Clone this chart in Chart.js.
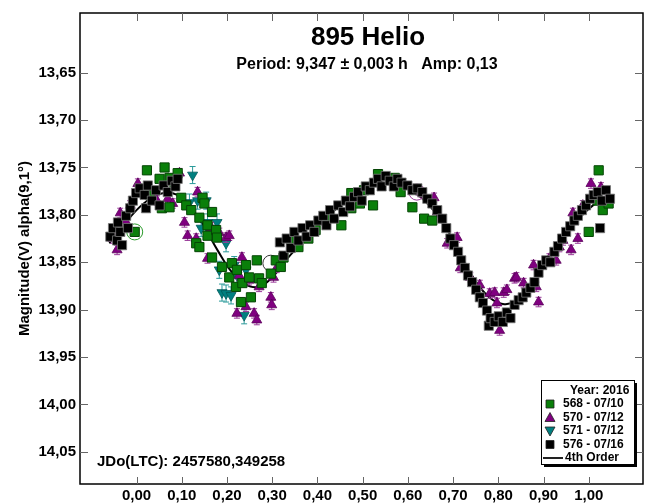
<!DOCTYPE html>
<html>
<head>
<meta charset="utf-8">
<script src="https://cdn.jsdelivr.net/npm/chart.js@4.4.0/dist/chart.umd.min.js"></script>
<style>
html, body { margin: 0; padding: 0; background: #fff; }
</style>
</head>
<body>
<canvas id="helio" width="652" height="503"></canvas>
<script>
var xTicks = [0, 0.1, 0.2, 0.3, 0.4, 0.5, 0.6, 0.7, 0.8, 0.9, 1.0];
var yTicks = [13.65, 13.70, 13.75, 13.80, 13.85, 13.90, 13.95, 14.00, 14.05];

// 576 - 07/16 (black squares)
var phase576 = [-0.058, -0.052, -0.043, -0.041, -0.036, -0.032, -0.023, -0.019, -0.014, -0.008, -0.001, 0.007, 0.018, 0.021, 0.025, 0.034, 0.043, 0.051, 0.060, 0.069, 0.078, 0.086, 0.091,
  0.317, 0.325, 0.332, 0.341, 0.349, 0.358, 0.367, 0.376, 0.384, 0.393, 0.402, 0.413, 0.420, 0.428, 0.437, 0.446, 0.457, 0.463, 0.472, 0.481, 0.490, 0.498, 0.507, 0.516, 0.525, 0.534, 0.542, 0.551, 0.560, 0.569, 0.577, 0.586,
  0.599, 0.610, 0.621, 0.632, 0.643, 0.654, 0.665, 0.676, 0.685, 0.694, 0.702, 0.711, 0.718, 0.726, 0.733, 0.742, 0.751, 0.759, 0.766, 0.775, 0.779, 0.783, 0.792, 0.801, 0.810, 0.819, 0.827,
  0.836, 0.845, 0.854, 0.862, 0.871, 0.880, 0.889, 0.897, 0.906, 0.915, 0.924, 0.932, 0.941, 0.950, 0.959, 0.968, 0.976, 0.985, 0.994, 1.003, 1.011, 1.020, 1.025, 1.029, 1.038, 1.047];
var mag576 = [13.823, 13.814, 13.827, 13.808, 13.818, 13.832, 13.801, 13.814, 13.793, 13.785, 13.777, 13.772, 13.779, 13.793, 13.769, 13.785, 13.774, 13.790, 13.769, 13.776, 13.764, 13.770, 13.762,
  13.829, 13.843, 13.825, 13.835, 13.818, 13.827, 13.814, 13.823, 13.811, 13.818, 13.806, 13.801, 13.811, 13.795, 13.804, 13.790, 13.797, 13.785, 13.791, 13.781, 13.776, 13.785, 13.770, 13.774, 13.766, 13.762, 13.770, 13.759, 13.764, 13.770, 13.762, 13.766,
  13.769, 13.774, 13.772, 13.776, 13.783, 13.788, 13.795, 13.804, 13.814, 13.825, 13.832, 13.839, 13.848, 13.856, 13.864, 13.871, 13.879, 13.887, 13.893, 13.901, 13.917, 13.909, 13.913, 13.907, 13.913, 13.903, 13.909,
  13.895, 13.890, 13.887, 13.882, 13.877, 13.871, 13.861, 13.853, 13.848, 13.850, 13.839, 13.833, 13.825, 13.818, 13.812, 13.806, 13.801, 13.795, 13.790, 13.783, 13.779, 13.776, 13.814, 13.785, 13.774, 13.783];

// 568 - 07/10 (green squares)
var phase568 = [-0.004, 0.023, 0.029, 0.051, 0.056, 0.062, 0.073, 0.073, 0.084, 0.091, 0.099, 0.110, 0.121, 0.132, 0.139, 0.139, 0.146, 0.150, 0.157, 0.157, 0.167, 0.167, 0.176, 0.178, 0.189,
  0.205, 0.211, 0.220, 0.222, 0.231, 0.234, 0.242, 0.249, 0.253, 0.266, 0.271, 0.277, 0.297, 0.308, 0.319,
  0.325, 0.343, 0.358, 0.380, 0.396, 0.424, 0.453, 0.475, 0.475, 0.494, 0.503, 0.523, 0.534, 0.571, 0.584, 0.610, 0.636, 0.654,
  1.000, 1.020, 1.022, 1.031, 1.044];
var mag568 = [13.818, 13.753, 13.779, 13.762, 13.793, 13.750, 13.761, 13.792, 13.767, 13.756, 13.782, 13.790, 13.795, 13.830, 13.803, 13.834, 13.782, 13.788, 13.811, 13.822, 13.797, 13.845, 13.816, 13.824, 13.855,
  13.866, 13.851, 13.876, 13.858, 13.892, 13.872, 13.853, 13.866, 13.887, 13.848, 13.867, 13.872, 13.862, 13.848, 13.855,
  13.845, 13.827, 13.834, 13.825, 13.816, 13.803, 13.811, 13.793, 13.777, 13.788, 13.774, 13.790, 13.757, 13.761, 13.776, 13.792, 13.804, 13.806,
  13.818, 13.785, 13.753, 13.795, 13.788];

// 570 - 07/12 (purple triangles)
var phase570 = [-0.052, -0.043, -0.036, -0.025, -0.014, 0.003, 0.025, 0.036, 0.045, 0.069, 0.080, 0.095, 0.106, 0.113, 0.132, 0.135, 0.157, 0.161, 0.165, 0.183, 0.198, 0.205, 0.222, 0.227, 0.233,
  0.242, 0.249, 0.260, 0.266, 0.271, 0.297, 0.299, 0.303, 0.310,
  0.628, 0.658, 0.665, 0.687, 0.709, 0.716, 0.738, 0.759, 0.781, 0.792, 0.797, 0.803, 0.812, 0.819, 0.836, 0.840, 0.856, 0.878, 0.884, 0.889,
  0.913, 0.928, 0.935, 0.943, 0.961, 0.965, 0.976, 0.987, 1.005, 1.016, 1.027, 1.042];
var mag570 = [13.825, 13.837, 13.798, 13.806, 13.790, 13.767, 13.771, 13.776, 13.785, 13.783, 13.788, 13.756, 13.808, 13.822, 13.825, 13.776, 13.846, 13.818, 13.813, 13.819, 13.824, 13.822, 13.904, 13.864, 13.845,
  13.897, 13.869, 13.904, 13.911, 13.876, 13.887, 13.895, 13.866, 13.856,
  13.776, 13.782, 13.797, 13.830, 13.824, 13.856, 13.866, 13.874, 13.883, 13.882, 13.893, 13.922, 13.882, 13.879, 13.867, 13.866, 13.872, 13.853, 13.876, 13.892,
  13.846, 13.848, 13.834, 13.827, 13.837, 13.798, 13.825, 13.790, 13.767, 13.779, 13.771, 13.785];

// 571 - 07/12 (teal down triangles)
var phase571 = [0.117, 0.124, 0.135, 0.143, 0.154, 0.157, 0.178, 0.183, 0.189, 0.198, 0.198, 0.209, 0.216, 0.222, 0.238, 0.242];
var mag571 = [13.787, 13.758, 13.785, 13.814, 13.785, 13.808, 13.808, 13.858, 13.882, 13.830, 13.883, 13.885, 13.853, 13.864, 13.906, 13.858];

// half error bars (mag) per series: 568, 570, 571, 576
var errHalf = [0.004, 0.005, 0.009, 0.003];

// ringed (first) points of the sessions
var ringPhase = [-0.004, 0.297, 0.620];
var ringMag = [13.818, 13.851, 13.776];
var ringColors = ['#2a9a2a', '#333333', '#9a3a9a'];

// 4th order fit
var fitPhase = [-0.06, -0.03, 0.00, 0.03, 0.06, 0.09, 0.12, 0.15, 0.18, 0.21, 0.24, 0.27, 0.30, 0.33, 0.36, 0.39, 0.42, 0.45, 0.48, 0.51, 0.54, 0.57, 0.60,
  0.63, 0.66, 0.69, 0.72, 0.75, 0.78, 0.81, 0.84, 0.87, 0.90, 0.93, 0.96, 0.99, 1.02];
var fitMag = [13.830, 13.812, 13.795, 13.783, 13.777, 13.779, 13.792, 13.813, 13.838, 13.860, 13.873, 13.876, 13.866, 13.848, 13.832, 13.817, 13.803, 13.790, 13.779, 13.770, 13.764, 13.764, 13.771,
  13.782, 13.797, 13.818, 13.845, 13.870, 13.887, 13.894, 13.891, 13.877, 13.856, 13.834, 13.815, 13.798, 13.786];

function pts(xs, ys) {
  return xs.map(function (x, i) { return { x: x, y: ys[i] }; });
}
function comma(v) { return v.toFixed(2).replace('.', ','); }

var FONT = '"Liberation Sans", Arial, sans-serif';

var errorBars = {
  id: 'errorBars',
  beforeDatasetDraw: function (chart, args) {
    var ds = chart.data.datasets[args.index];
    if (!ds.errBar) return;
    var ys = chart.scales.y, c = chart.ctx;
    c.save();
    c.strokeStyle = ds.errColor;
    c.lineWidth = 1;
    args.meta.data.forEach(function (p, i) {
      var v = ds.data[i].y;
      var y1 = ys.getPixelForValue(v - ds.errBar), y2 = ys.getPixelForValue(v + ds.errBar);
      c.beginPath();
      c.moveTo(p.x, y1); c.lineTo(p.x, y2);
      c.moveTo(p.x - 3, y1); c.lineTo(p.x + 3, y1);
      c.moveTo(p.x - 3, y2); c.lineTo(p.x + 3, y2);
      c.stroke();
    });
    c.restore();
  }
};

function marker(c, kind, x, y, fill) {
  c.fillStyle = fill;
  c.strokeStyle = '#222';
  c.lineWidth = 0.8;
  c.beginPath();
  if (kind === 'rect') {
    c.rect(x - 4, y - 4, 8, 8);
  } else if (kind === 'up') {
    c.moveTo(x, y - 5); c.lineTo(x + 5, y + 4); c.lineTo(x - 5, y + 4); c.closePath();
  } else {
    c.moveTo(x, y + 5); c.lineTo(x + 5, y - 4); c.lineTo(x - 5, y - 4); c.closePath();
  }
  c.fill();
  c.stroke();
}

var frame = {
  id: 'frame',
  afterDraw: function (chart) {
    var a = chart.chartArea, c = chart.ctx, xs = chart.scales.x, ys = chart.scales.y;
    c.save();
    c.strokeStyle = '#000';
    c.lineWidth = 1.5;
    c.strokeRect(a.left, a.top, a.right - a.left, a.bottom - a.top);
    c.strokeStyle = '#666';
    c.lineWidth = 1;
    c.beginPath();
    xTicks.forEach(function (v) {
      var x = Math.round(xs.getPixelForValue(v)) + 0.5;
      c.moveTo(x, a.bottom); c.lineTo(x, a.bottom - 7);
      c.moveTo(x, a.top); c.lineTo(x, a.top + 8);
    });
    yTicks.forEach(function (v) {
      var y = Math.round(ys.getPixelForValue(v)) + 0.5;
      c.moveTo(a.left, y); c.lineTo(a.left + 8, y);
      c.moveTo(a.right, y); c.lineTo(a.right - 8, y);
    });
    c.stroke();

    // titles
    c.fillStyle = '#000';
    c.textAlign = 'center';
    c.textBaseline = 'middle';
    c.font = 'bold 26px ' + FONT;
    c.fillText('895 Helio', 368, 38);
    c.font = 'bold 16px ' + FONT;
    c.fillText('Period: 9,347 \u00b1 0,003 h   Amp: 0,13', 367, 65);
    c.textAlign = 'left';
    c.font = 'bold 15px ' + FONT;
    c.fillText('JDo(LTC): 2457580,349258', a.left + 17, a.bottom - 22);

    // legend box
    var lx = a.right - 102, ly = a.bottom - 104, lw = 93, lh = 84;
    c.fillStyle = '#000';
    c.fillRect(lx + 3, ly + 3, lw, lh);
    c.fillStyle = '#fff';
    c.fillRect(lx, ly, lw, lh);
    c.strokeStyle = '#000';
    c.lineWidth = 1;
    c.strokeRect(lx + 0.5, ly + 0.5, lw, lh);
    c.font = 'bold 12px ' + FONT;
    c.fillStyle = '#000';
    c.fillText('Year: 2016', lx + 29, ly + 11);
    var rows = [
      ['rect', '#0a7f0a', '568 - 07/10'],
      ['up', '#800080', '570 - 07/12'],
      ['down', '#008080', '571 - 07/12'],
      ['rect', '#000', '576 - 07/16']
    ];
    rows.forEach(function (r, i) {
      var yy = ly + 24 + i * 13.5;
      marker(c, r[0], lx + 9, yy, r[1]);
      c.fillStyle = '#000';
      c.fillText(r[2], lx + 22, yy);
    });
    var yl = ly + 78;
    c.lineWidth = 2;
    c.beginPath();
    c.moveTo(lx + 2, yl); c.lineTo(lx + 22, yl);
    c.stroke();
    c.fillText('4th Order', lx + 24, yl);
    c.restore();
  }
};

var tickFont = { family: FONT, size: 15, weight: 'bold' };

new Chart(document.getElementById('helio'), {
  type: 'scatter',
  data: {
    datasets: [
      {
        label: '576 - 07/16', data: pts(phase576, mag576),
        pointStyle: 'rect', pointRadius: 6.5, backgroundColor: '#000', borderColor: '#777', borderWidth: 0.8,
        errBar: errHalf[3], errColor: '#333'
      },
      {
        label: '568 - 07/10', data: pts(phase568, mag568),
        pointStyle: 'rect', pointRadius: 6.5, backgroundColor: '#0a7f0a', borderColor: '#064506', borderWidth: 1,
        errBar: errHalf[0], errColor: '#0a7f0a'
      },
      {
        label: '570 - 07/12', data: pts(phase570, mag570),
        pointStyle: 'triangle', pointRadius: 5.8, backgroundColor: '#800080', borderColor: '#5a005a', borderWidth: 0.8,
        errBar: errHalf[1], errColor: '#9a3a9a'
      },
      {
        label: '571 - 07/12', data: pts(phase571, mag571),
        pointStyle: 'triangle', rotation: 180, pointRadius: 5.8, backgroundColor: '#008080', borderColor: '#005a5a', borderWidth: 0.8,
        errBar: errHalf[2], errColor: '#2a9a9a'
      },
      {
        label: 'rings', data: pts(ringPhase, ringMag),
        pointStyle: 'circle', pointRadius: 8, backgroundColor: 'rgba(0,0,0,0)', borderColor: ringColors, borderWidth: 1
      },
      {
        label: '4th Order', data: pts(fitPhase, fitMag),
        showLine: true, pointRadius: 0, borderColor: '#000', borderWidth: 2, tension: 0.4
      }
    ]
  },
  options: {
    responsive: false,
    animation: false,
    devicePixelRatio: 1,
    layout: { padding: { left: 0, right: 5, top: 12, bottom: 0 } },
    plugins: { legend: { display: false }, tooltip: { enabled: false } },
    scales: {
      x: {
        type: 'linear', min: -0.125, max: 1.12,
        afterBuildTicks: function (s) { s.ticks = xTicks.map(function (v) { return { value: v }; }); },
        afterFit: function (s) { s.height = 19; },
        grid: { display: false, drawTicks: false },
        border: { display: false },
        ticks: { padding: 3, color: '#000', font: tickFont, autoSkip: false, maxRotation: 0, callback: function (v) { return comma(v); } }
      },
      y: {
        type: 'linear', reverse: true, min: 13.587, max: 14.084,
        afterBuildTicks: function (s) { s.ticks = yTicks.map(function (v) { return { value: v }; }); },
        afterFit: function (s) { s.width = 80; },
        grid: { display: false, drawTicks: false },
        border: { display: false },
        ticks: { padding: 4, color: '#000', font: tickFont, autoSkip: false, callback: function (v) { return comma(v); } },
        title: { display: true, text: 'Magnitude(V) alpha(9,1\u00b0)', color: '#000', font: { family: FONT, size: 15, weight: 'bold' }, padding: { top: 16, bottom: 0 } }
      }
    }
  },
  plugins: [errorBars, frame]
});
</script>
</body>
</html>
